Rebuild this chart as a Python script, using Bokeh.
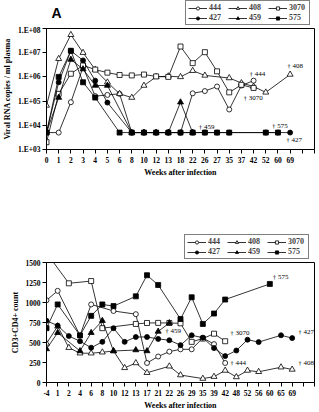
from bokeh.plotting import figure
from bokeh.layouts import column
from bokeh.models import Range1d, FixedTicker, Legend, LegendItem, Label
from bokeh.embed import file_html
from bokeh.resources import INLINE

# ---- Panel A: plasma viral RNA (copies/ml), log scale ----
weeks_rna = ["0", "1", "2", "3", "4", "5", "6", "8", "10", "12", "13",
             "18", "22", "26", "27", "35", "37", "42", "52", "60", "69"]
rna_444 = [5e3, 5e3, 9e4, 2.5e6, 1.6e5, 1.8e5, 2e5, 5e3, 5e3, 5e3, 5e3,
           5e3, 2.1e5, 2.6e5, 4e5, 4.5e4, 4.4e5, 7e5, None, None, None]
rna_408 = [6.6e4, 5.6e6, 5.5e7, 1e7, 2e6, 6e5, 2e5, 1.4e5, 4.4e5, 1e6, 1.07e6,
           1e6, 1.8e6, 1.15e6, None, 9e5, 5.6e5, 4e5, 2.3e5, None, 1.26e6]
rna_3070 = [2e3, 2e5, 1.35e6, 3e6, 2e6, 1.5e6, 1.2e6, 1.15e6, 1.25e6, 1.05e6, 1e6,
            1.8e7, 3.7e6, 1.05e7, 1.7e6, 2.3e5, 4.7e5, 3.5e5, None, None, None]
rna_427 = [5e3, 6e5, 1.2e7, 4.8e6, 7e5, 8.7e4, None, 5e3, 5e3, 5e3, 5e3,
           5e3, 5e3, 5e3, 5e3, 5e3, None, None, 5e3, 5e3, 5e3]
rna_459 = [5e3, 1.4e5, 5.2e6, 2.1e6, 4.4e5, 4.4e5, None, 5e3, 5e3, 5e3, 5e3,
           9e4, 5e3, None, None, None, None, None, None, None, None]
rna_575 = [5e3, 1e6, 1.2e7, 6e5, 1.4e5, None, 5e3, 5e3, 5e3, 5e3, 5e3,
           5e3, 5e3, 5e3, 5e3, 5e3, None, None, 5e3, 5e3, None]
rna_ticks = [1e3, 1e4, 1e5, 1e6, 1e7, 1e8]
rna_tick_labels = ["1.E+03", "1.E+04", "1.E+05", "1.E+06", "1.E+07", "1.E+08"]

# ---- Panel B: CD3+CD4+ counts ----
weeks_cd4 = ["-4", "1", "2", "4", "6", "8", "10", "12", "13", "17", "21", "22",
             "26", "29", "35", "39", "42", "48", "52", "56", "60", "65", "69"]
cd4_444 = [1028, 1146, None, 589, 976, None, 894, None, 854, 244, 325, 386,
           415, 415, 557, 480, 244, None, None, None, None, None, None]
cd4_408 = [488, 703, 435, 366, 366, 378, 394, 183, 244, 122, None, 203,
           93, None, 49, 73, 150, 69, 150, 134, None, 191, 163]
cd4_3070 = [1620, None, 1240, None, 1268, 679, None, None, 732, 744, 745, 744,
            740, 508, 549, 610, 516, None, None, None, None, None, None]
cd4_427 = [772, 711, 581, 516, 435, 508, 679, 508, 569, 569, 545, 528,
           467, 590, 560, 430, 330, 400, 535, 505, None, 590, 555]
cd4_459 = [419, 622, None, 394, 622, 772, 394, None, 406, 394, 638, 744,
           None, None, None, None, None, None, None, None, None, None, None]
cd4_575 = [679, 976, None, 589, 833, 976, 955, None, 1077, 1341, 1219, None,
           793, 1065, 732, 862, 1037, None, None, None, 1232, None, None]
cd4_ticks = [0, 250, 500, 750, 1000, 1250, 1500]

animals = ["444", "408", "3070", "427", "459", "575"]
marker_style = {
    "444": ("circle", "white", 5),
    "408": ("triangle", "white", 6),
    "3070": ("square", "white", 5),
    "427": ("circle", "black", 5),
    "459": ("triangle", "black", 6),
    "575": ("square", "black", 5),
}

SERIF = "Liberation Serif"
W = 319


def style_axes(p, n_slots, week_labels, y_title):
    p.outline_line_color = "black"
    p.outline_line_width = 1
    p.xgrid.visible = False
    p.ygrid.visible = False
    p.xaxis.ticker = FixedTicker(ticks=list(range(n_slots)))
    p.xaxis.major_label_overrides = {
        i: (week_labels[i] if i < len(week_labels) else "") for i in range(n_slots)}
    p.xaxis.minor_tick_line_color = None
    p.yaxis.minor_tick_line_color = None
    for ax in (p.xaxis[0], p.yaxis[0]):
        ax.axis_line_color = "black"
        ax.major_tick_line_color = "black"
        ax.major_tick_in = 0
        ax.major_tick_out = 4
        ax.major_label_text_font = SERIF
        ax.major_label_text_font_style = "bold"
        ax.major_label_text_font_size = "7.5px"
        ax.major_label_text_color = "black"
        ax.axis_label_text_font = SERIF
        ax.axis_label_text_font_style = "bold"
        ax.axis_label_text_font_size = "8px"
        ax.axis_label_text_color = "black"
    p.xaxis.axis_label = "Weeks after infection"
    p.yaxis.axis_label = y_title
    p.xaxis.major_label_standoff = 3
    p.xaxis.axis_label_standoff = 2
    p.yaxis.major_label_standoff = 2
    p.yaxis.axis_label_standoff = 3


def draw_series(p, series):
    ends = {}
    for name in animals:
        vals = series[name]
        xs = [i for i, v in enumerate(vals) if v is not None]
        ys = [v for v in vals if v is not None]
        marker, fill, size = marker_style[name]
        p.line(xs, ys, line_color="black", line_width=0.8)
        p.scatter(xs, ys, marker=marker, size=size, fill_color=fill,
                  line_color="black", line_width=0.8)
        ends[name] = (xs[-1], ys[-1])
    return ends


def header(width, height):
    """Strip above a panel that carries the key; its frame spans the whole strip."""
    h = figure(width=width, height=height,
               x_range=Range1d(0, width), y_range=Range1d(0, height),
               x_axis_location=None, y_axis_location=None,
               output_backend="svg", toolbar_location=None,
               min_border=0, min_border_left=0, min_border_right=0,
               min_border_top=0, min_border_bottom=0)
    h.outline_line_color = None
    h.xgrid.visible = False
    h.ygrid.visible = False
    items = []
    for name in animals:
        marker, fill, size = marker_style[name]
        # key swatches: a single point parked outside the visible strip
        lr = h.line([-50, -40], [-50, -50], line_color="black", line_width=0.8)
        sr = h.scatter([-50], [-50], marker=marker, size=size, fill_color=fill,
                       line_color="black", line_width=0.8)
        items.append(LegendItem(label=name, renderers=[lr, sr]))
    leg = Legend(items=items, location="bottom_right",
                 orientation="horizontal", ncols=3)
    leg.label_text_font = SERIF
    leg.label_text_font_style = "bold"
    leg.label_text_font_size = "8px"
    leg.label_height = 8
    leg.glyph_height = 8
    leg.glyph_width = 19
    leg.label_width = 18
    leg.label_standoff = 2
    leg.spacing = 1
    leg.padding = 2
    leg.margin = 0
    leg.border_line_color = "black"
    leg.border_line_width = 1
    leg.background_fill_color = "white"
    leg.background_fill_alpha = 1
    h.add_layout(leg, "center")
    return h


def end_label(p, pos, text, dx, dy):
    p.add_layout(Label(x=pos[0], y=pos[1], text=text, x_offset=dx, y_offset=dy,
                       text_font=SERIF, text_font_size="7px", text_color="black",
                       text_align="left", text_baseline="middle"))


# ---------- panel A ----------
hA = header(315, 25)
hA.add_layout(Label(x=5, y=5, x_units="screen", y_units="screen", text="A",
                    text_font="Liberation Sans", text_font_style="bold",
                    text_font_size="14px", text_color="black"))

p1 = figure(width=W, height=175, y_axis_type="log",
            x_range=Range1d(0, 22), y_range=Range1d(1e3, 1e8),
            output_backend="svg", toolbar_location=None,
            min_border_left=43, min_border_right=4,
            min_border_top=3, min_border_bottom=51)
style_axes(p1, 23, weeks_rna, "Viral RNA copies / ml plasma")
p1.yaxis.ticker = FixedTicker(ticks=rna_ticks)
p1.yaxis.major_label_overrides = dict(zip(rna_ticks, rna_tick_labels))

rna = {"444": rna_444, "408": rna_408, "3070": rna_3070,
       "427": rna_427, "459": rna_459, "575": rna_575}
ends1 = draw_series(p1, rna)
end_label(p1, ends1["444"], "\u2020 444", -4, 7)
end_label(p1, ends1["408"], "\u2020 408", -3, 8)
end_label(p1, ends1["3070"], "\u2020 3070", -10, -10)
end_label(p1, ends1["459"], "\u2020 459", 6, 6)
end_label(p1, ends1["575"], "\u2020 575", -6, 7)
end_label(p1, ends1["427"], "\u2020 427", -4, -7)

# ---------- panel B ----------
hB = header(314, 59)

p2 = figure(width=W, height=153,
            x_range=Range1d(0, 24), y_range=Range1d(0, 1500),
            output_backend="svg", toolbar_location=None,
            min_border_left=42, min_border_right=5,
            min_border_top=3, min_border_bottom=27)
style_axes(p2, 25, weeks_cd4, "CD3+CD4+ count")
p2.yaxis.ticker = FixedTicker(ticks=cd4_ticks)

cd4 = {"444": cd4_444, "408": cd4_408, "3070": cd4_3070,
       "427": cd4_427, "459": cd4_459, "575": cd4_575}
ends2 = draw_series(p2, cd4)
end_label(p2, ends2["575"], "\u2020 575", 3, 7)
end_label(p2, ends2["459"], "\u2020 459", -4, -8)
end_label(p2, ends2["3070"], "\u2020 3070", 5, 8)
end_label(p2, ends2["427"], "\u2020 427", 6, 6)
end_label(p2, ends2["444"], "\u2020 444", 5, 0)
end_label(p2, ends2["408"], "\u2020 408", 6, 6)

layout = column(hA, p1, hB, p2, spacing=0)
open("out.html", "w").write(file_html(layout, INLINE))
